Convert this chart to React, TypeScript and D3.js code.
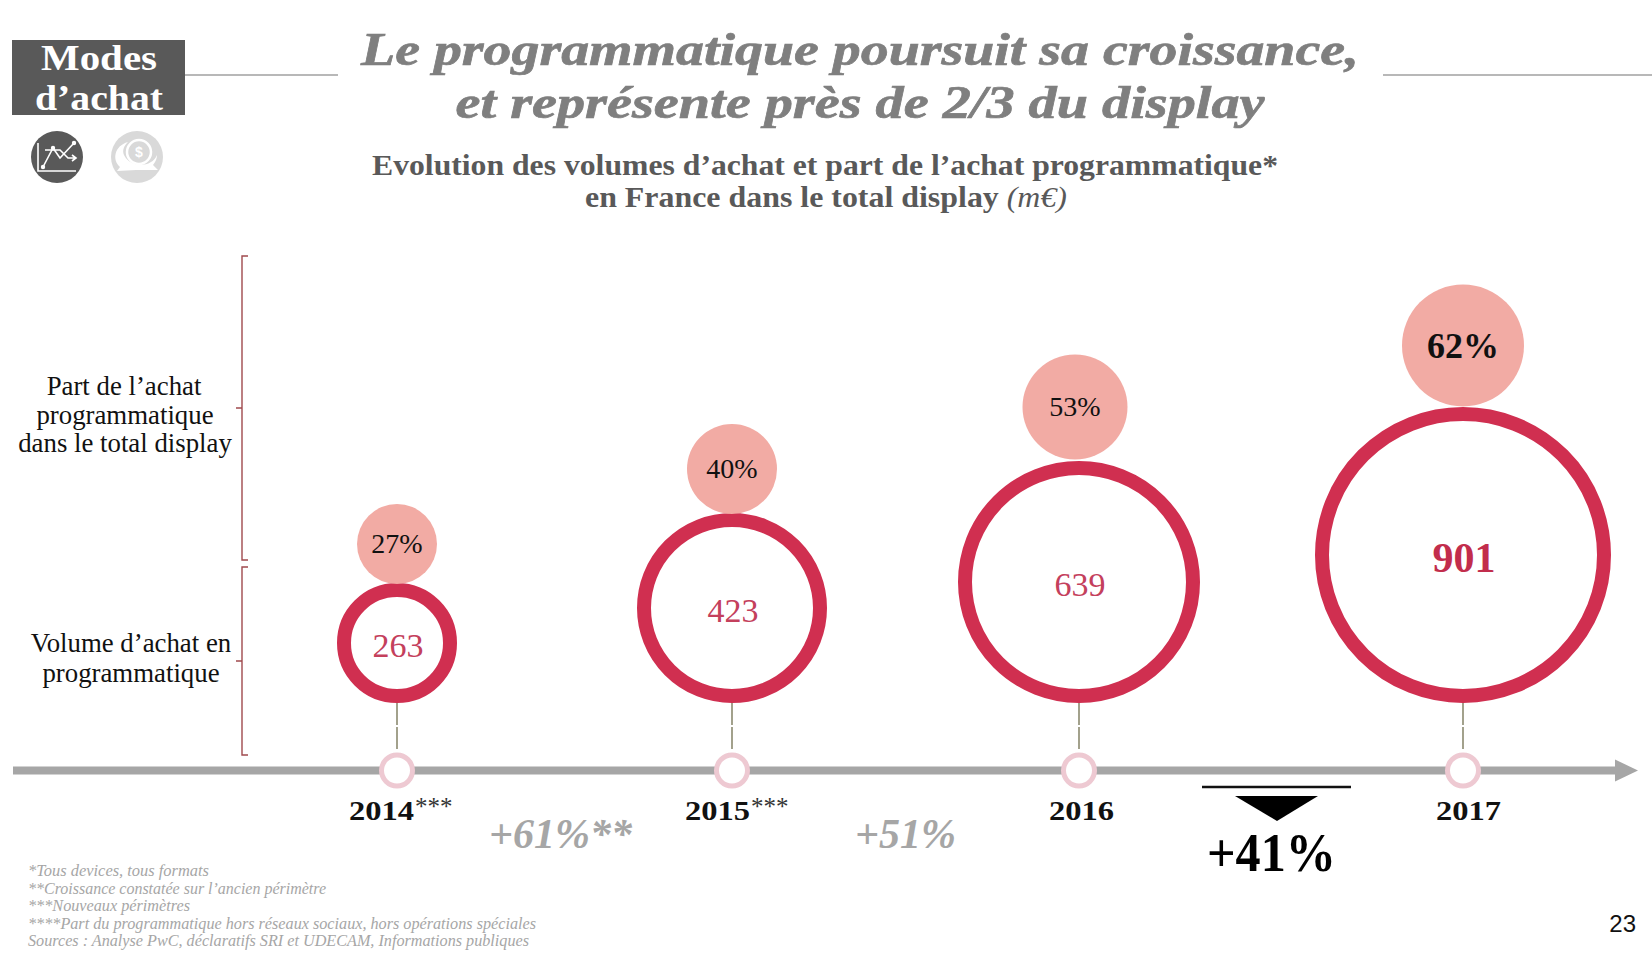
import React from "react";
import * as d3 from "d3";

const years = [2014, 2015, 2016, 2017];
const yearLabels = ["2014", "2015", "2016", "2017"];
const yearStars = ["***", "***", "", ""];
const volumes = [263, 423, 639, 901];
const shares = [27, 40, 53, 62];
const footnotes = [
  "*Tous devices, tous formats",
  "**Croissance constatée sur l’ancien périmètre",
  "***Nouveaux périmètres",
  "****Part du programmatique hors réseaux sociaux, hors opérations spéciales",
  "Sources : Analyse PwC, déclaratifs SRI et UDECAM, Informations publiques",
];
const footWidths = [181, 298, 162, 508, 501];
const titleLines = ["Le programmatique poursuit sa croissance,", "et représente près de 2/3 du display"];

const SERIF = "'Liberation Serif', serif";
const RED = "#d02f50";
const PINK = "#f2aba4";
const GREY = "#a6a6a6";
const DARK = "#595959";

const xRing = d3.scaleLinear().domain(years).range([397, 732, 1079, 1463]);
const xShare = d3.scaleLinear().domain(years).range([397, 732, 1075, 1463]);
const xYear = d3.scaleLinear().domain(years).range([349, 685, 1049, 1436]);
const rRing = d3.scaleLinear().domain(volumes).range([53, 88, 114, 141]);
const rShare = d3.scaleLinear().domain(shares).range([40, 45, 52.5, 61]);
const shareLift = d3.scaleLinear().domain(shares).range([0, 0, 2.5, 1.5]);
const RING_BOTTOM = 703;
const AXIS_Y = 770.5;
const STROKE = 14;

function Bracket({ y0, y1, ym }: { y0: number; y1: number; ym: number }) {
  const p = d3.path();
  p.moveTo(248, y0);
  p.lineTo(242, y0);
  p.lineTo(242, y1);
  p.lineTo(248, y1);
  p.moveTo(242, ym);
  p.lineTo(236, ym);
  return <path d={p.toString()} fill="none" stroke="#a04a4e" strokeWidth={1.4} />;
}

export default function App() {
  return (
    <svg width={1652} height={957} style={{ position: "absolute", left: 0, top: 0, background: "#fff" }}>
      {/* header */}
      <line x1={185} x2={338} y1={75} y2={75} stroke="#b8b8b8" strokeWidth={2} />
      <line x1={1383} x2={1652} y1={75} y2={75} stroke="#b8b8b8" strokeWidth={2} />
      <rect x={12} y={40} width={173} height={75} fill={DARK} />
      <g fontFamily={SERIF} fontWeight={700} fontSize={36} fill="#fff" textAnchor="middle">
        <text x={99} y={70} textLength={116} lengthAdjust="spacingAndGlyphs">Modes</text>
        <text x={99} y={110} textLength={128} lengthAdjust="spacingAndGlyphs">d’achat</text>
      </g>

      {/* icons */}
      <circle cx={57} cy={157} r={26} fill={DARK} />
      <g fill="none" stroke="#fff" strokeWidth={1.6}>
        <path d="M38 143 V171 H76" />
        <path d="M43 167 L53 148 L60 158 L74 143" />
        <path d="M45 150 L60 150 L68 158 L76 158 M72 155 L76 158 L72 161" />
      </g>
      <g fill="#fff">
        <circle cx={43} cy={167} r={2.2} />
        <circle cx={53} cy={148} r={2.2} />
        <circle cx={74} cy={143} r={2.2} />
      </g>
      <circle cx={137} cy={157} r={26} fill="#d9d9d9" />
      <path d="M128 142 C114 146 112 160 120 167 L117 171 L136 170 L158 170 L153 165 C156 161 157 158 157 155 C152 168 130 168 124 155 C122 150 124 146 128 142 Z" fill="#fff" />
      <circle cx={139} cy={152} r={12} fill="none" stroke="#fff" strokeWidth={2.5} />
      <text x={139} y={157} fontSize={14} fontWeight={700} fontFamily="'Liberation Sans', sans-serif" fill="#fff" textAnchor="middle">$</text>

      {/* title */}
      <g fontFamily={SERIF} fontWeight={700} fontStyle="italic" fontSize={46} fill="#7f7f7f" stroke="#7f7f7f" strokeWidth={0.7} textAnchor="middle">
        <text x={860} y={65} textLength={998} lengthAdjust="spacingAndGlyphs">{titleLines[0]}</text>
        <text x={860} y={118} textLength={809} lengthAdjust="spacingAndGlyphs">{titleLines[1]}</text>
      </g>
      <g fontFamily={SERIF} fontSize={29} fill={DARK} textAnchor="middle">
        <text x={825} y={175} fontWeight={700} textLength={906} lengthAdjust="spacingAndGlyphs">Evolution des volumes d’achat et part de l’achat programmatique*</text>
        <text x={826} y={207} textLength={482} lengthAdjust="spacingAndGlyphs">
          <tspan fontWeight={700}>en France dans le total display </tspan>
          <tspan fontStyle="italic" fontWeight={400}>(m€)</tspan>
        </text>
      </g>

      {/* row labels */}
      <Bracket y0={256} y1={560} ym={408} />
      <Bracket y0={567} y1={755} ym={661} />
      <g fontFamily={SERIF} fontSize={26.8} fill="#111" textAnchor="middle">
        <text x={124} y={395}>Part de l’achat</text>
        <text x={125} y={424}>programmatique</text>
        <text x={125} y={452}>dans le total display</text>
        <text x={131} y={652}>Volume d’achat en</text>
        <text x={131} y={682}>programmatique</text>
      </g>

      {/* timeline */}
      <line x1={13} x2={1618} y1={AXIS_Y} y2={AXIS_Y} stroke={GREY} strokeWidth={8} />
      <path d="M1615 759.5 L1638 770.5 L1615 781.5 Z" fill={GREY} />

      {years.map((y, i) => {
        const cx = xRing(y);
        const r = rRing(volumes[i]);
        const cy = RING_BOTTOM - STROKE / 2 - r;
        const rs = rShare(shares[i]);
        const csy = cy - r - STROKE / 2 - rs + 1 - shareLift(shares[i]);
        const big = i === 3;
        return (
          <g key={y}>
            <line x1={cx} x2={cx} y1={RING_BOTTOM} y2={751} stroke="#8c8a70" strokeWidth={1.6} strokeDasharray="22 2" />
            <circle cx={cx} cy={AXIS_Y} r={15.5} fill="#fff" stroke="#eec9d2" strokeWidth={5} />
            <circle cx={cx} cy={cy} r={r} fill="#fff" stroke={RED} strokeWidth={STROKE} />
            <text x={cx + 1} y={cy + (big ? 17 : 14)} fontFamily={SERIF} fontSize={big ? 42 : 34} fontWeight={big ? 700 : 400} fill={big ? "#c22d4c" : "#c4405c"} textAnchor="middle">{volumes[i]}</text>
            <circle cx={xShare(y)} cy={csy} r={rs} fill={PINK} />
            <text x={xShare(y)} y={csy + (big ? 12 : 9)} fontFamily={SERIF} fontSize={big ? 36 : 28} fontWeight={big ? 700 : 400} fill="#111" textAnchor="middle">{shares[i]}%</text>
            <text x={xYear(y)} y={820} fontFamily={SERIF} fontSize={28} fontWeight={700} fill="#111" textLength={65} lengthAdjust="spacingAndGlyphs">{yearLabels[i]}</text>
            {yearStars[i] && (
              <text x={xYear(y) + 66} y={815} fontFamily={SERIF} fontSize={25} fill="#333">{yearStars[i]}</text>
            )}
          </g>
        );
      })}

      {/* growth rates */}
      <g fontFamily={SERIF} fontStyle="italic" fontWeight={700} fontSize={42} fill={GREY}>
        <text x={489} y={848}>+61%**</text>
        <text x={855} y={848}>+51%</text>
      </g>
      <line x1={1202} x2={1351} y1={787} y2={787} stroke="#111" strokeWidth={2.5} />
      <path d="M1235 796 H1318 L1277 821 Z" fill="#000" />
      <text x={1207} y={871} fontFamily={SERIF} fontWeight={700} fontSize={54} fill="#000" textLength={129} lengthAdjust="spacingAndGlyphs">+41%</text>

      {/* footnotes */}
      <g fontFamily={SERIF} fontStyle="italic" fontSize={16} fill={GREY}>
        {footnotes.map((t, i) => (
          <text key={i} x={28} y={876 + i * 17.6} textLength={footWidths[i]} lengthAdjust="spacingAndGlyphs">{t}</text>
        ))}
      </g>
      <text x={1636} y={932} fontFamily="'Liberation Sans', sans-serif" fontSize={24} fill="#111" textAnchor="end">23</text>
    </svg>
  );
}
